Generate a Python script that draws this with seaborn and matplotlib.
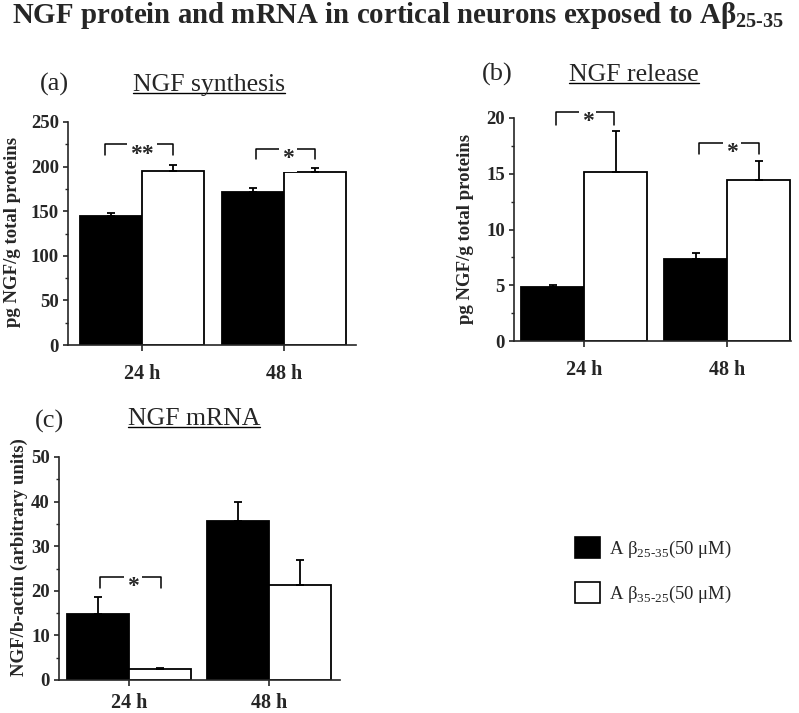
import numpy as np
import pandas as pd
import matplotlib
matplotlib.use("Agg")
import matplotlib.pyplot as plt
from matplotlib.lines import Line2D
from matplotlib.patches import Patch
from matplotlib.ticker import MultipleLocator
import seaborn as sns

TIMES = ["24 h", "48 h"]
TREATMENTS = ["Aβ25-35", "Aβ35-25"]

# (a) NGF synthesis, pg NGF/g total proteins
SYNTH_ACTIVE = [145, 172]
SYNTH_ACTIVE_ERR = [3, 4]
SYNTH_REVERSE = [195, 194]
SYNTH_REVERSE_ERR = [7, 4]

# (b) NGF release
RELEASE_ACTIVE = [4.8, 7.35]
RELEASE_ACTIVE_ERR = [0.2, 0.55]
RELEASE_REVERSE = [15.15, 14.4]
RELEASE_REVERSE_ERR = [3.7, 1.7]

# (c) NGF mRNA
MRNA_ACTIVE = [14.7, 35.6]
MRNA_ACTIVE_ERR = [4.0, 4.3]
MRNA_REVERSE = [2.4, 21.3]
MRNA_REVERSE_ERR = [0.4, 5.6]

sns.set_style("ticks")
plt.rcParams["font.family"] = ["Liberation Serif", "DejaVu Serif"]
plt.rcParams["font.weight"] = "bold"
plt.rcParams["axes.linewidth"] = 1.2

W, H = 799, 713


def fx(px):
    return px / W


def fy(py):
    return 1 - py / H


def draw_panel(ax, active, active_err, reverse, reverse_err, ylim, major, minor, xlim, ylabel,
               brackets, xpad=10):
    df = pd.DataFrame({
        "time": TIMES * 2,
        "treatment": [t for t in TREATMENTS for _ in TIMES],
        "value": active + reverse,
    })
    sns.barplot(data=df, x="time", y="value", hue="treatment", hue_order=TREATMENTS,
                palette=["black", "white"], saturation=1, edgecolor="black", linewidth=1.3,
                width=0.88, errorbar=None, legend=False, ax=ax)
    for p, e in zip(ax.patches, active_err + reverse_err):
        x = p.get_x() + p.get_width() / 2
        ax.errorbar(x, p.get_height(), yerr=[[0], [e]], fmt="none", ecolor="black",
                    elinewidth=1.3, capsize=2.8, capthick=1.3, zorder=3)
    ax.set_ylim(*ylim)
    ax.set_xlim(*xlim)
    ax.yaxis.set_major_locator(MultipleLocator(major))
    ax.yaxis.set_minor_locator(MultipleLocator(minor))
    ax.tick_params(axis="y", which="major", length=3.5, width=1.2, labelsize=13.5, pad=3)
    ax.tick_params(axis="y", which="minor", length=2, width=1)
    ax.tick_params(axis="x", length=4, width=1.2, labelsize=14.5, pad=xpad)
    plt.setp(ax.get_yticklabels(), fontweight="bold")
    plt.setp(ax.get_xticklabels(), fontweight="bold")
    ax.set_xlabel("")
    ax.set_ylabel(ylabel, fontsize=13.5, fontweight="bold")
    sns.despine(ax=ax)
    for xc, x0, x1, ytop, yend, star in brackets:
        ax.plot([xc + x0, xc + x0, xc + x1, xc + x1], [yend, ytop, ytop, yend],
                color="black", lw=1.1, zorder=2, clip_on=False)
        ax.annotate(star, xy=(xc + (x0 + x1) / 2 + 0.02, ytop), xytext=(0, -11),
                    textcoords="offset points", ha="center", va="baseline", fontsize=17,
                    fontweight="bold", annotation_clip=False, zorder=4,
                    bbox=dict(boxstyle="square,pad=0.12", fc="white", ec="none"))


fig = plt.figure(figsize=(W / 100, H / 100), dpi=100)

ax_a = fig.add_axes([fx(68), fy(345), fx(356 - 68), (345 - 122) / H])
draw_panel(ax_a, SYNTH_ACTIVE, SYNTH_ACTIVE_ERR, SYNTH_REVERSE, SYNTH_REVERSE_ERR,
           (0, 250), 50, 25, (-0.521, 1.507), "pg NGF/g total proteins",
           [(0, -0.26, 0.22, 225, 213, "**"), (1, -0.2, 0.22, 220, 208, "*")])
ax_a.yaxis.set_label_coords(-0.194, 0.507)

ax_b = fig.add_axes([fx(514), fy(341), fx(791 - 514), (341 - 118) / H])
draw_panel(ax_b, RELEASE_ACTIVE, RELEASE_ACTIVE_ERR, RELEASE_REVERSE, RELEASE_REVERSE_ERR,
           (0, 20), 5, 2.5, (-0.49, 1.445), "pg NGF/g total proteins",
           [(0, -0.2, 0.21, 20.54, 19.37, "*"), (1, -0.196, 0.22, 17.75, 16.77, "*")])
ax_b.yaxis.set_label_coords(-0.174, 0.502)

ax_c = fig.add_axes([fx(59), fy(680), fx(340 - 59), (680 - 457) / H])
draw_panel(ax_c, MRNA_ACTIVE, MRNA_ACTIVE_ERR, MRNA_REVERSE, MRNA_REVERSE_ERR,
           (0, 50), 10, 5, (-0.5, 1.507), "NGF/b-actin (arbitrary units)",
           [(0, -0.21, 0.23, 23.2, 20.6, "*")], xpad=5)
ax_c.yaxis.set_label_coords(-0.142, 0.55)

for ax in (ax_a, ax_b, ax_c):
    ax.yaxis.label.set_va("center")

fig.text(fx(12), fy(23), "NGF protein and mRNA in cortical neurons exposed to Aβ$_{\\mathregular{25\u201035}}$",
         fontsize=20.8, fontweight="bold", va="baseline", ha="left")

fig.text(fx(40), fy(91), "(a)", fontsize=19, fontweight="normal", va="baseline")
fig.text(fx(482), fy(81), "(b)", fontsize=19, fontweight="normal", va="baseline")
fig.text(fx(35), fy(428), "(c)", fontsize=19, fontweight="normal", va="baseline")

heads = [
    fig.text(fx(133), fy(91), "NGF synthesis", fontsize=18.5, fontweight="normal", va="baseline"),
    fig.text(fx(569), fy(81), "NGF release", fontsize=18.5, fontweight="normal", va="baseline"),
    fig.text(fx(128), fy(425), "NGF mRNA", fontsize=18.5, fontweight="normal", va="baseline"),
]

handles = [Patch(facecolor="black", edgecolor="black", lw=1.2),
           Patch(facecolor="white", edgecolor="black", lw=1.2)]
labels = ["A β$_{\\mathregular{25\u201035}}$(50 μM)", "A β$_{\\mathregular{35\u201025}}$(50 μM)"]
fig.legend(handles, labels, loc="upper left", bbox_to_anchor=(fx(575), fy(537)),
           frameon=False, borderpad=0, borderaxespad=0, handlelength=1.35, handleheight=1.35,
           handletextpad=0.45, labelspacing=1.2, prop={"size": 13.5, "weight": "normal"})

fig.canvas.draw()
renderer = fig.canvas.get_renderer()
inv = fig.transFigure.inverted()
for t in heads:
    bb = t.get_window_extent(renderer)
    x0, _ = inv.transform((bb.x0, 0))
    x1, _ = inv.transform((bb.x1, 0))
    yb = t.get_position()[1] - 2 / H
    fig.add_artist(Line2D([x0, x1], [yb, yb], color="black", lw=1.0, transform=fig.transFigure))

fig.savefig("out.png", dpi=100)
